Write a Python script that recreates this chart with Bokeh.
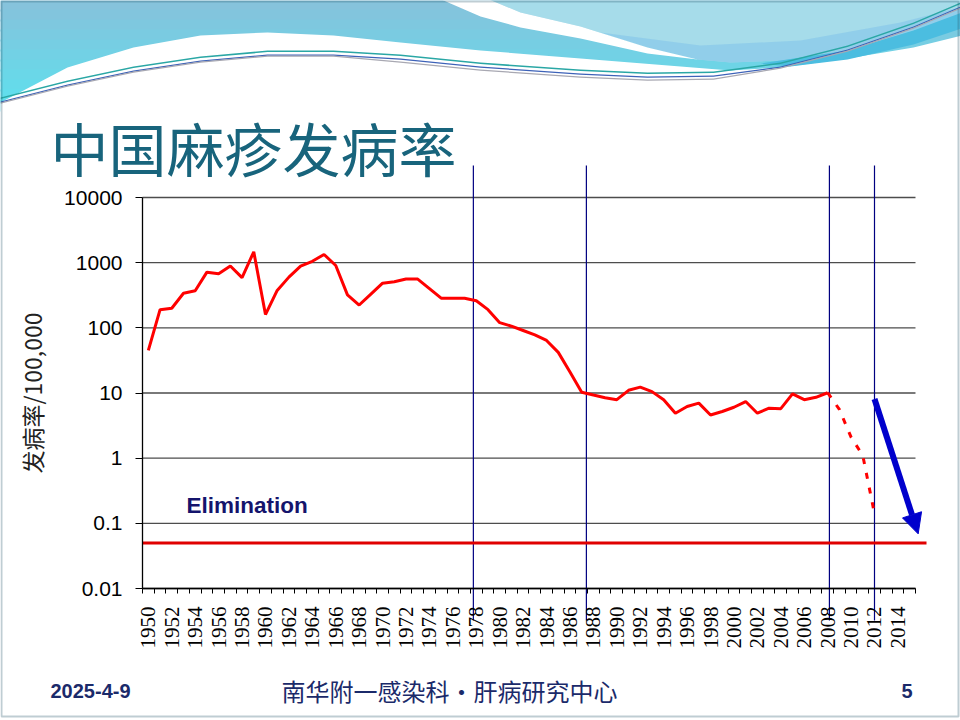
import numpy as np
from bokeh.plotting import figure
from bokeh.models import (Range1d, FixedTicker, Label, Arrow, NormalHead,
                          PolyAnnotation)
from bokeh.embed import file_html
from bokeh.resources import INLINE

# 麻疹发病率 (/100,000), 读图估计
years = list(range(1950, 2009))
incidence = [45, 190, 200, 340, 370, 715, 675, 890, 590, 1470,
             160, 375, 600, 885, 1050, 1335, 905, 320, 224, 330,
             485, 510, 560, 560, 400, 285, 285, 285, 260, 190,
             120, 106, 91, 78, 64, 42, 21, 10.3, 9.3, 8.45,
             7.9, 11, 12.3, 10.5, 7.9, 4.9, 6.2, 7.0, 4.6, 5.2,
             6.05, 7.4, 4.9, 5.85, 5.75, 9.7, 7.9, 8.6, 10.1]

# 2008 以后 (虚线)
recent_years = [2008, 2009, 2010, 2011, 2012]
recent_incidence = [10.1, 5.6, 2.1, 1.1, 0.14]

elimination_level = 0.05
marker_years = [1977.75, 1987.4, 2008.15, 2012.0]
trend_start = (2012.0, 8.1)
trend_end = (2015.73, 0.069)

y_ticks = [0.01, 0.1, 1, 10, 100, 1000, 10000]
y_tick_labels = ["0.01", "0.1", "1", "10", "100", "1000", "10000"]
x_label_years = list(range(1950, 2015, 2))
x_first, x_last = 1950, 2015


# 画布像素 -> 数据坐标 (左轴在 x=142, 10000 在 y=197)
def dx(X):
    return 1949.5 + (X - 142) / 11.712


def dy(Y):
    return 10 ** (4 - (Y - 197) / 65.17)


p = figure(width=960, height=720, y_axis_type="log",
           x_range=Range1d(dx(0), dx(960)), y_range=Range1d(dy(720), dy(0)),
           output_backend="svg", toolbar_location=None)
p.min_border = 0
p.outline_line_color = None
p.grid.visible = False
p.background_fill_color = "white"
p.border_fill_color = "white"


# ---- 顶部装饰波浪
def poly(pts, color, alpha=1.0):
    p.add_layout(PolyAnnotation(xs=[dx(a) for a, b in pts], ys=[dy(b) for a, b in pts],
                                fill_color=color, fill_alpha=alpha, line_color=None))


def ribbon(pts, color, t=1.6):
    pts2 = pts + [(a, b + t) for a, b in reversed(pts)]
    poly(pts2, color)


# 渐变: 先画横条, 再用白色盖住波浪以下
top_c = np.array([0x86, 0xc3, 0xdc])
bot_c = np.array([0x5e, 0xe0, 0xee])
for i in range(11):
    c = top_c + (bot_c - top_c) * i / 10
    y0, y1 = i * 10 - 1, i * 10 + 11
    poly([(-10, y0), (970, y0), (970, y1), (-10, y1)],
         "#%02x%02x%02x" % tuple(int(v) for v in c))

below_wave = [(-10, 108), (0, 102), (67, 67), (133, 47), (200, 35), (267, 32),
              (333, 35), (400, 42), (480, 50), (580, 58), (680, 66), (730, 70),
              (780, 67), (847, 58), (913, 47), (970, 33), (970, 130), (-10, 130)]
poly(below_wave, "white")
light_right = [(467, -10), (970, -10), (970, 12), (913, 30), (847, 50), (780, 60),
               (730, 62), (697, 59), (647, 47), (580, 26), (520, 12)]
poly(light_right, "#a6dcea")
light_right_low = [(600, 32), (647, 47), (697, 59), (730, 62), (780, 60), (847, 50),
                   (913, 30), (970, 12), (970, 4), (900, 22), (800, 40), (700, 45)]
poly(light_right_low, "#8ccbea", 0.8)
white_band = [(420, -10), (467, -10), (520, 12), (580, 26), (647, 47), (697, 59),
              (647, 53), (580, 38), (520, 27), (480, 16)]
poly(white_band, "white")
dark_stripe = [(760, 63), (847, 50), (913, 30), (970, 9), (970, 25), (913, 44),
               (847, 59), (790, 66)]
poly(dark_stripe, "#4bbde0")

curve = [(0, 97), (67, 80), (133, 66), (200, 56), (267, 50), (333, 50), (400, 54),
         (480, 62), (580, 69), (647, 72), (713, 71), (780, 62), (847, 45),
         (913, 22), (960, 2)]
ribbon(curve, "#2aa7a5")
ribbon([(a, b + 4) for a, b in curve], "#3d62b8", 1.3)
ribbon([(a, b + 7 if 380 < a < 760 else b + 5) for a, b in curve], "#a8a8b2", 1.3)

# ---- 网格线 (每个数量级)
p.segment(x0=[x_first - 0.5] * len(y_ticks), x1=[x_last + 0.5] * len(y_ticks),
          y0=y_ticks, y1=y_ticks, line_color="#4d4d4d", line_width=1.3)

# ---- 分期竖线
p.segment(x0=marker_years, x1=marker_years,
          y0=[dy(165)] * len(marker_years), y1=[dy(620)] * len(marker_years),
          line_color="#000080", line_width=1.2)

# ---- 数据
p.line(years, incidence, line_color="#ff0000", line_width=3)
p.line(recent_years, recent_incidence, line_color="#ff0000", line_width=3,
       line_dash="6 9")

p.segment(x0=[x_first - 0.5], x1=[dx(926)], y0=[elimination_level],
          y1=[elimination_level], line_color="#e00000", line_width=3)

p.add_layout(Arrow(x_start=trend_start[0], y_start=trend_start[1],
                   x_end=trend_end[0], y_end=trend_end[1],
                   line_color="#0000cc", line_width=6,
                   end=NormalHead(size=20, fill_color="#0000cc", line_color="#0000cc")))

p.add_layout(Label(x=dx(186), y=dy(505), text="Elimination",
                   text_font="Liberation Sans", text_font_style="bold",
                   text_font_size="22.5px", text_color="#14146c",
                   text_baseline="alphabetic"))

# ---- 坐标轴 (固定在画布内)
p.yaxis.fixed_location = x_first - 0.5
p.yaxis.ticker = FixedTicker(ticks=y_ticks)
p.yaxis.bounds = (y_ticks[0], y_ticks[-1])
p.yaxis.major_label_overrides = dict(zip(y_ticks, y_tick_labels))
p.yaxis.major_tick_out = 7
p.yaxis.major_tick_in = 0
p.yaxis.minor_tick_line_color = None
p.yaxis.axis_line_color = "black"
p.yaxis.axis_line_width = 1.3
p.yaxis.major_tick_line_color = "black"
p.yaxis.major_label_text_font = "Liberation Sans"
p.yaxis.major_label_text_font_size = "21px"
p.yaxis.major_label_text_color = "black"
p.yaxis.major_label_standoff = 13
p.yaxis.axis_label = "发病率/100,000"
p.yaxis.axis_label_text_font = "Noto Sans CJK SC"
p.yaxis.axis_label_text_font_style = "normal"
p.yaxis.axis_label_text_font_size = "23px"
p.yaxis.axis_label_text_color = "#222222"
p.yaxis.axis_label_standoff = 12

p.xaxis.fixed_location = y_ticks[0]
p.xaxis.ticker = FixedTicker(ticks=x_label_years,
                             minor_ticks=[y - 0.5 for y in range(x_first, x_last + 2)])
p.xaxis.bounds = (x_first - 0.5, x_last + 0.5)
p.xaxis.major_tick_out = 5
p.xaxis.major_tick_in = 0
p.xaxis.major_tick_line_color = None
p.xaxis.minor_tick_out = 5
p.xaxis.minor_tick_in = 0
p.xaxis.minor_tick_line_color = "black"
p.xaxis.axis_line_color = "black"
p.xaxis.axis_line_width = 1.3
p.xaxis.major_label_orientation = np.pi / 2
p.xaxis.major_label_text_font = "Liberation Serif, DejaVu Serif, serif"
p.xaxis.major_label_text_font_size = "21px"
p.xaxis.major_label_text_color = "black"
p.xaxis.major_label_standoff = 13

# ---- 标题和页脚
p.add_layout(Label(x=dx(50), y=dy(146), text="中国麻疹发病率",
                   text_font="Noto Sans CJK SC", text_font_size="58px",
                   text_color="#18647c", text_baseline="middle"))
p.add_layout(Label(x=dx(50), y=dy(690), text="2025-4-9",
                   text_font="Liberation Sans", text_font_style="bold",
                   text_font_size="20px", text_color="#1b2a6a",
                   text_baseline="middle"))
p.add_layout(Label(x=dx(449), y=dy(690), text="南华附一感染科・肝病研究中心",
                   text_font="Noto Sans CJK SC", text_font_size="24px",
                   text_color="#1b2a6a", text_align="center",
                   text_baseline="middle"))
p.add_layout(Label(x=dx(912), y=dy(690), text="5",
                   text_font="Liberation Sans", text_font_style="bold",
                   text_font_size="20px", text_color="#1b2a6a",
                   text_align="right", text_baseline="middle"))

# 幻灯片边框
border = [(1, 1), (958, 1), (958, 716), (1, 716)]
p.add_layout(PolyAnnotation(xs=[dx(a) for a, b in border],
                            ys=[dy(b) for a, b in border],
                            fill_color=None, line_color="#2b5a6e", line_width=2))

open("out.html", "w").write(file_html(p, INLINE))
